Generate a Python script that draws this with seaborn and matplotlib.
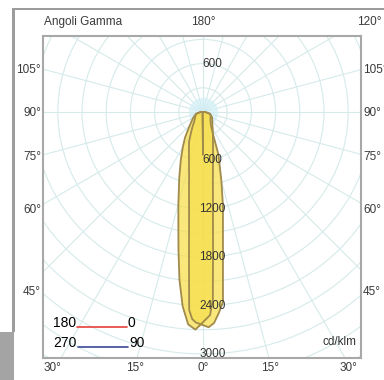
import numpy as np
import matplotlib
matplotlib.use("Agg")
import matplotlib.pyplot as plt
from matplotlib.patches import Circle, Rectangle
from matplotlib.lines import Line2D
import seaborn as sns

# intensity curves (cd/klm) vs gamma angle, signed from nadir (+ = right side)
ang_a = [-180, -120, -100, -90, -75, -60, -50, -40, -35, -30, -25, -20, -15, -12, -10, -8, -6, -4, -2, 0,
         2, 3, 4, 5, 6.5, 8, 10, 13, 16, 20, 25, 30, 40, 50, 60, 75, 90, 100, 120, 180]
int_a = [0, 0, 5, 30, 90, 140, 190, 290, 390, 500, 650, 860, 1180, 1470, 1750, 2100, 2420, 2640, 2700, 2640,
         2520, 2330, 1780, 1420, 1090, 880, 710, 550, 450, 360, 290, 240, 180, 150, 130, 90, 30, 5, 0, 0]

ang_b = [-180, -120, -100, -90, -75, -60, -45, -35, -30, -25, -20, -15, -12, -10, -8, -6, -5, -4, -3, -2, 0,
         1.5, 3, 4.5, 6, 7, 8, 10, 12, 15, 20, 25, 30, 35, 45, 60, 75, 90, 100, 120, 180]
int_b = [0, 0, 5, 30, 90, 110, 150, 230, 300, 410, 510, 670, 830, 1000, 1240, 1660, 1990, 2460, 2570, 2610, 2640,
         2670, 2620, 2500, 2370, 2030, 1780, 1425, 1190, 880, 560, 280, 200, 165, 130, 110, 90, 30, 5, 0, 0]

ring_values = list(range(300, 3901, 300))
ring_labels = [600, 1200, 1800, 2400, 3000]
ray_angles = list(range(0, 360, 15))

left_labels = ["105°", "90°", "75°", "60°", "45°"]
side_label_y = [70, 113, 157, 210, 292]
bottom_labels = ["30°", "15°", "0°", "15°", "30°"]
bottom_label_x = [52, 135, 203, 270, 348]

W, H = 384, 380
sns.set_style("white")
plt.rcParams["font.family"] = ["Liberation Sans", "DejaVu Sans"]

fig = plt.figure(figsize=(W / 100, H / 100), dpi=100)


def fx(x):
    return x / W


def fy(y):
    return 1 - y / H


# plot box in pixels: x 43..361, y 36..358, centre at (203, 112); 12.4 cd/klm per px
k = 12.4
ax = fig.add_axes([fx(43), fy(358), (361 - 43) / W, (358 - 36) / H])
ax.set_xlim(-160 * k, 158 * k)
ax.set_ylim(-246 * k, 76 * k)
ax.set_aspect("equal")
ax.set_xticks([])
ax.set_yticks([])
for s in ax.spines.values():
    s.set_color("#a8a8a8")
    s.set_linewidth(1.5)

grid_c = "#d6eaea"
for r in ring_values:
    ax.add_patch(Circle((0, 0), r, fill=False, ec=grid_c, lw=0.8, zorder=1))
for a in ray_angles:
    t = np.deg2rad(a)
    ax.plot([0, 5000 * np.sin(t)], [0, -5000 * np.cos(t)], color=grid_c, lw=0.8, zorder=1)

# faint blue glow at centre
ax.scatter([0], [0], s=450, color="#cdeef6", alpha=0.6, lw=0, zorder=1)

for ang, val in [(ang_a, int_a), (ang_b, int_b)]:
    t = np.deg2rad(ang)
    v = np.array(val, dtype=float)
    xs = v * np.sin(t)
    ys = -v * np.cos(t)
    ax.fill(xs, ys, color="#f7df4f", alpha=0.75, lw=0, zorder=2)
    sns.lineplot(x=xs, y=ys, sort=False, color="#a08a4c", lw=1.3, ax=ax, zorder=3)

lab_kw = dict(fontsize=8.5, color="#333333", ha="center", va="center", zorder=4)
ax.text(120, 600, "600", **lab_kw)
for r in ring_labels:
    ax.text(120, -r, str(r), **lab_kw)
ax.text(0.985, 0.03, "cd/klm", transform=ax.transAxes, fontsize=8.5, color="#333333",
        ha="right", va="bottom")

# outer frame
frame_c = "#9c9c9c"
fig.add_artist(Rectangle((fx(12), fy(332)), 3 / W, 324 / H, transform=fig.transFigure, color=frame_c, lw=0))
fig.add_artist(Rectangle((fx(12), fy(10)), 1 - fx(12), 2.5 / H, transform=fig.transFigure, color=frame_c, lw=0))
fig.add_artist(Rectangle((0, 0), 14 / W, 48 / H, transform=fig.transFigure, color="#a4a4a4", lw=0))

out_kw = dict(fontsize=8.5, color="#3a3a3a", va="center")
fig.text(fx(44), fy(22), "Angoli Gamma", ha="left", **out_kw)
fig.text(fx(203), fy(22), "180°", ha="center", **out_kw)
fig.text(fx(382), fy(22), "120°", ha="right", **out_kw)
for lab, y in zip(left_labels, side_label_y):
    fig.text(fx(41), fy(y), lab, ha="right", **out_kw)
    fig.text(fx(363), fy(y), lab, ha="left", **out_kw)
for lab, x in zip(bottom_labels, bottom_label_x):
    fig.text(fx(x), fy(368), lab, ha="center", **out_kw)

# legend
leg_kw = dict(fontsize=10, color="black", va="center")
fig.text(fx(53), fy(323), "180", ha="left", **leg_kw)
fig.text(fx(128), fy(323), "0", ha="left", **leg_kw)
fig.text(fx(53), fy(343), "270", ha="left", **leg_kw)
fig.text(fx(129), fy(343), "90", ha="left", **leg_kw)
fig.add_artist(Line2D([fx(77), fx(127)], [fy(327), fy(327)], transform=fig.transFigure, color="#e8403a", lw=1.2))
fig.add_artist(Line2D([fx(78), fx(128)], [fy(347), fy(347)], transform=fig.transFigure, color="#3a4a9a", lw=1.2))

fig.savefig("out.png", dpi=100)
